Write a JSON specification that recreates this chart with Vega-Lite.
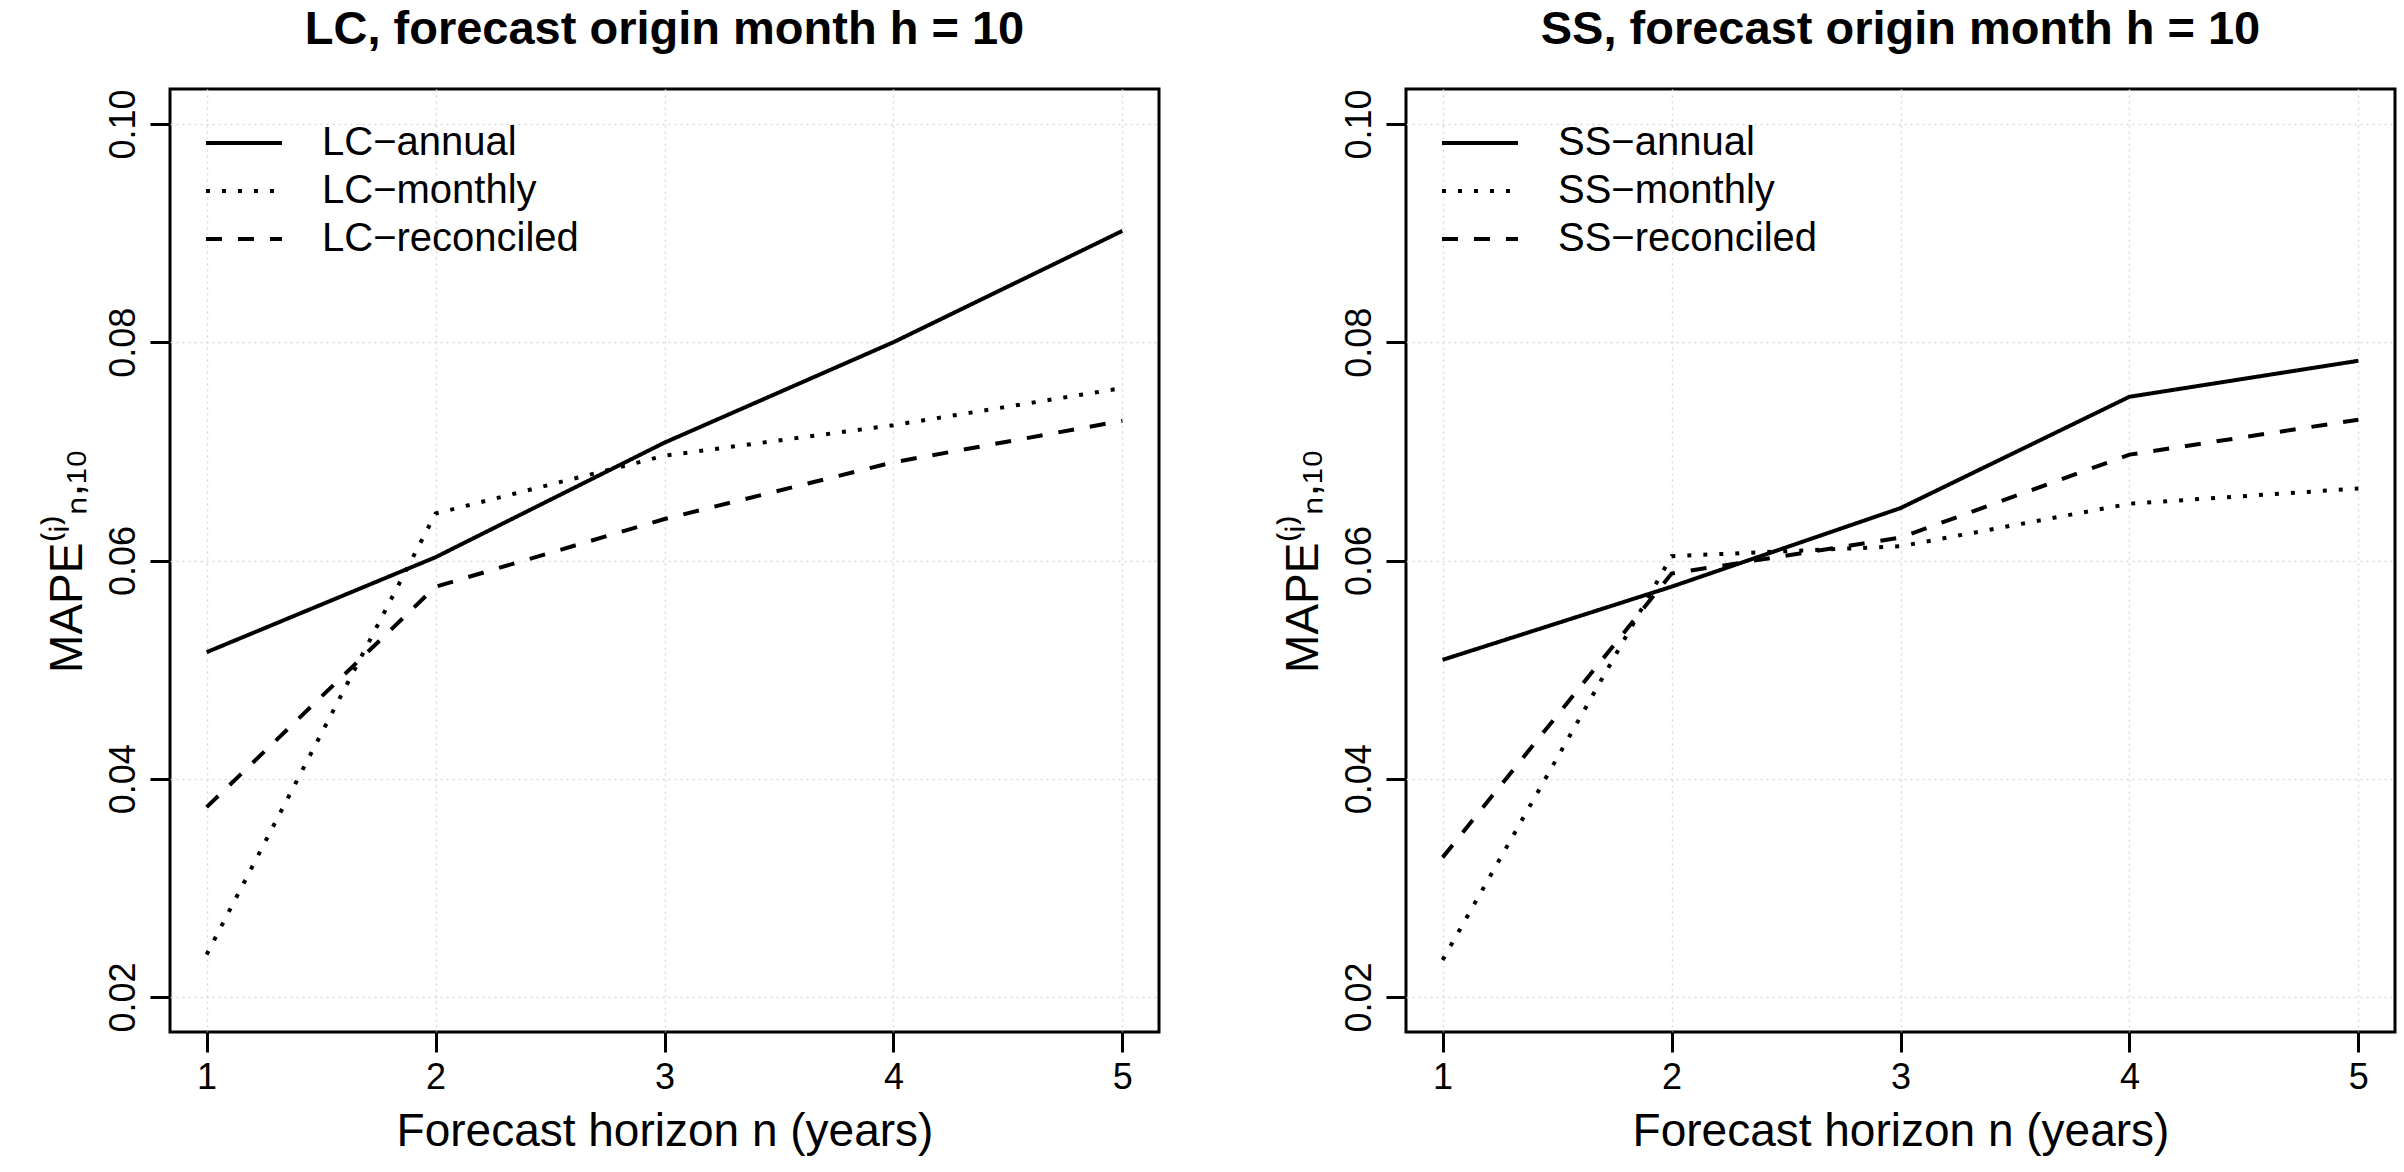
{
  "$schema": "https://vega.github.io/schema/vega-lite/v6.json",
  "background": "white",
  "padding": {"left": 42, "top": 4, "right": 5, "bottom": 10},
  "spacing": 247,
  "bounds": "flush",
  "datasets": {
    "LC": [
      {"series": "LC−annual", "n": 1, "mape": 0.0516},
      {"series": "LC−annual", "n": 2, "mape": 0.0603},
      {"series": "LC−annual", "n": 3, "mape": 0.0708},
      {"series": "LC−annual", "n": 4, "mape": 0.0800},
      {"series": "LC−annual", "n": 5, "mape": 0.0902},
      {"series": "LC−monthly", "n": 1, "mape": 0.0239},
      {"series": "LC−monthly", "n": 2, "mape": 0.0643},
      {"series": "LC−monthly", "n": 3, "mape": 0.0696},
      {"series": "LC−monthly", "n": 4, "mape": 0.0724},
      {"series": "LC−monthly", "n": 5, "mape": 0.0758},
      {"series": "LC−reconciled", "n": 1, "mape": 0.0374},
      {"series": "LC−reconciled", "n": 2, "mape": 0.0576},
      {"series": "LC−reconciled", "n": 3, "mape": 0.0638},
      {"series": "LC−reconciled", "n": 4, "mape": 0.0690},
      {"series": "LC−reconciled", "n": 5, "mape": 0.0728}
    ],
    "SS": [
      {"series": "SS−annual", "n": 1, "mape": 0.0509},
      {"series": "SS−annual", "n": 2, "mape": 0.0576},
      {"series": "SS−annual", "n": 3, "mape": 0.0648},
      {"series": "SS−annual", "n": 4, "mape": 0.0750},
      {"series": "SS−annual", "n": 5, "mape": 0.0783},
      {"series": "SS−monthly", "n": 1, "mape": 0.0234},
      {"series": "SS−monthly", "n": 2, "mape": 0.0604},
      {"series": "SS−monthly", "n": 3, "mape": 0.0613},
      {"series": "SS−monthly", "n": 4, "mape": 0.0652},
      {"series": "SS−monthly", "n": 5, "mape": 0.0666},
      {"series": "SS−reconciled", "n": 1, "mape": 0.0328},
      {"series": "SS−reconciled", "n": 2, "mape": 0.0588},
      {"series": "SS−reconciled", "n": 3, "mape": 0.0621},
      {"series": "SS−reconciled", "n": 4, "mape": 0.0697},
      {"series": "SS−reconciled", "n": 5, "mape": 0.0729}
    ]
  },
  "resolve": {"scale": {"strokeDash": "independent"}, "legend": {"strokeDash": "independent"}},
  "hconcat": [
    {
      "width": 989,
      "height": 943,
      "title": {"text": "LC, forecast origin month h = 10"},
      "data": {"name": "LC"},
      "mark": {"type": "line", "color": "black", "strokeWidth": 4, "clip": true},
      "encoding": {
        "x": {"field": "n", "type": "quantitative", "title": "Forecast horizon n (years)",
              "scale": {"domain": [0.84, 5.16], "nice": false, "zero": false},
              "axis": {"values": [1, 2, 3, 4, 5], "format": "d"}},
        "y": {"field": "mape", "type": "quantitative", "title": "MAPE⁽ⁱ⁾ₙ,₁₀",
              "scale": {"domain": [0.0168, 0.1032], "nice": false, "zero": false},
              "axis": {"values": [0.02, 0.04, 0.06, 0.08, 0.10], "format": ".2f", "labelAngle": -90, "labelAlign": "center", "labelBaseline": "bottom"}},
        "strokeDash": {"field": "series", "type": "nominal", "title": null,
              "scale": {"domain": ["LC−annual", "LC−monthly", "LC−reconciled"], "range": [[1, 0], [4, 12], [16, 16]]}}
      }
    },
    {
      "width": 989,
      "height": 943,
      "title": {"text": "SS, forecast origin month h = 10"},
      "data": {"name": "SS"},
      "mark": {"type": "line", "color": "black", "strokeWidth": 4, "clip": true},
      "encoding": {
        "x": {"field": "n", "type": "quantitative", "title": "Forecast horizon n (years)",
              "scale": {"domain": [0.84, 5.16], "nice": false, "zero": false},
              "axis": {"values": [1, 2, 3, 4, 5], "format": "d"}},
        "y": {"field": "mape", "type": "quantitative", "title": "MAPE⁽ⁱ⁾ₙ,₁₀",
              "scale": {"domain": [0.0168, 0.1032], "nice": false, "zero": false},
              "axis": {"values": [0.02, 0.04, 0.06, 0.08, 0.10], "format": ".2f", "labelAngle": -90, "labelAlign": "center", "labelBaseline": "bottom"}},
        "strokeDash": {"field": "series", "type": "nominal", "title": null,
              "scale": {"domain": ["SS−annual", "SS−monthly", "SS−reconciled"], "range": [[1, 0], [4, 12], [16, 16]]}}
      }
    }
  ],
  "config": {
    "font": "Liberation Sans",
    "view": {"stroke": "black", "strokeWidth": 3},
    "title": {"fontSize": 47, "fontWeight": "bold", "anchor": "middle", "offset": 35, "color": "black", "font": "Liberation Sans"},
    "axis": {
      "domain": false,
      "grid": true,
      "gridColor": "#d9d9d9",
      "gridDash": [2, 4],
      "gridWidth": 1.5,
      "ticks": true,
      "tickSize": 20,
      "tickWidth": 3,
      "tickColor": "black",
      "labelFontSize": 36,
      "labelColor": "black",
      "labelPadding": 8,
      "labelFont": "Liberation Sans",
      "titleFontSize": 46,
      "titleFontWeight": "normal",
      "titleColor": "black",
      "titleFont": "Liberation Sans",
      "titlePadding": 14
    },
    "legend": {
      "orient": "top-left",
      "offset": 34,
      "padding": 0,
      "symbolType": "M-1.64,0H5.27",
      "symbolSize": 484,
      "symbolStrokeWidth": 4,
      "symbolStrokeColor": "black",
      "labelFontSize": 40,
      "labelFont": "Liberation Sans",
      "labelColor": "black",
      "labelOffset": 78,
      "rowPadding": 8,
      "labelLimit": 600
    }
  }
}
